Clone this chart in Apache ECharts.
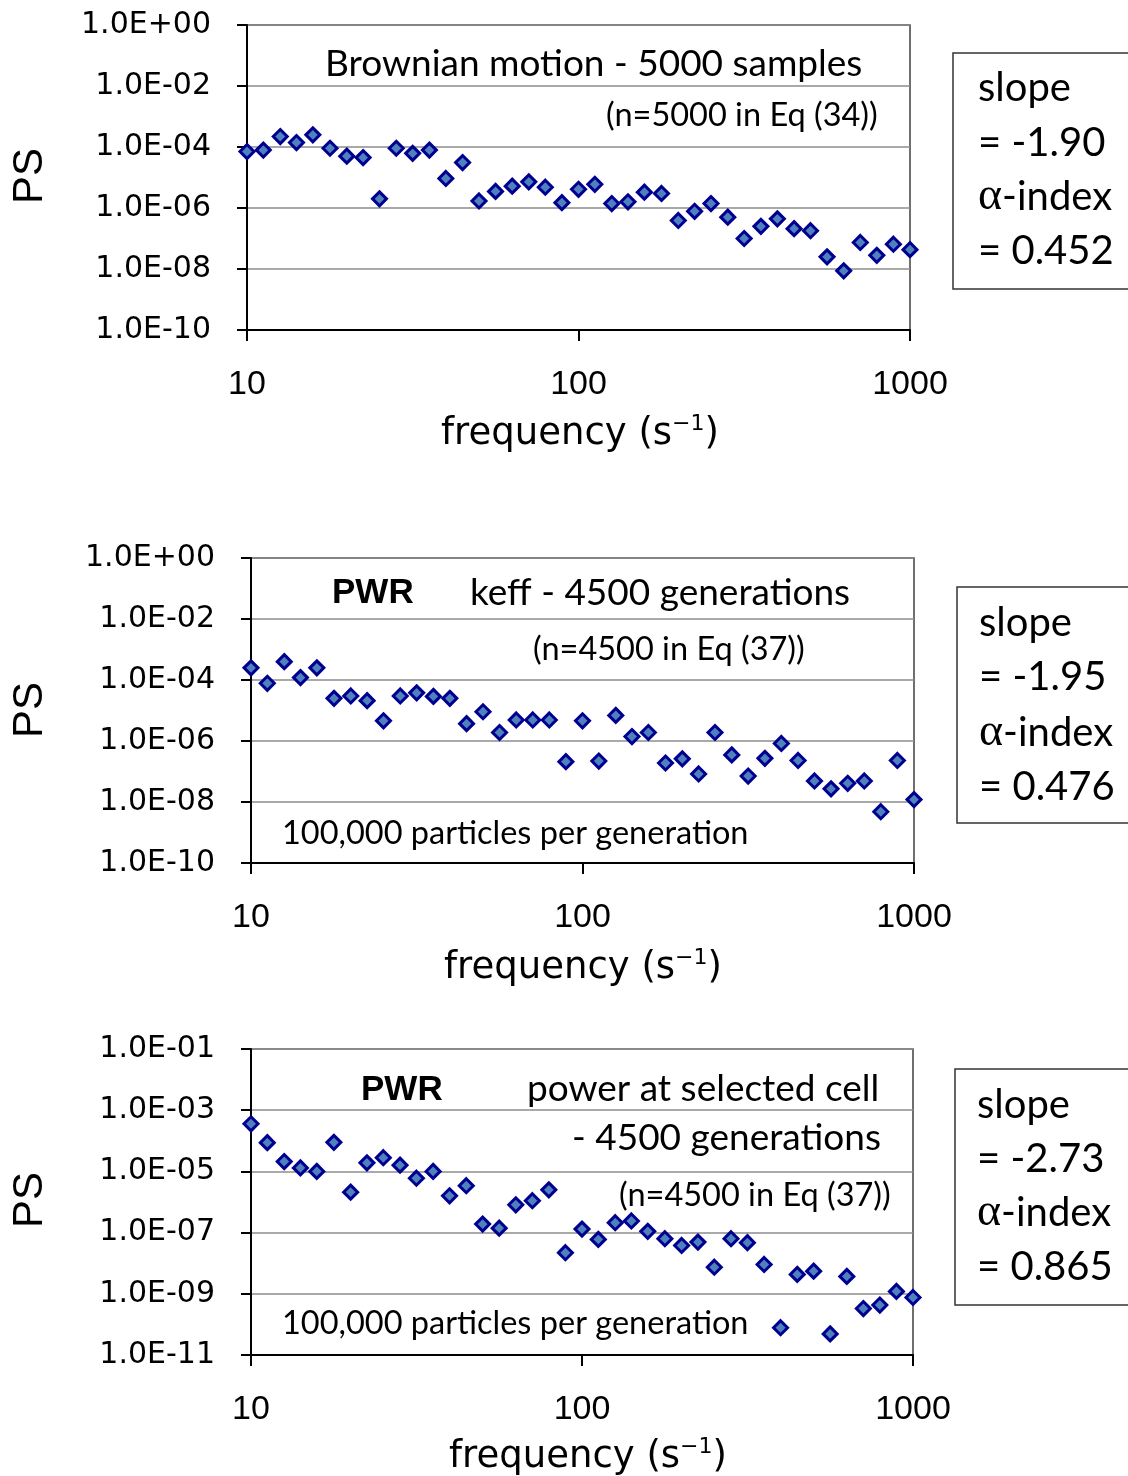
<!DOCTYPE html>
<html><head><meta charset="utf-8">
<script src="https://cdn.jsdelivr.net/npm/echarts@6/dist/echarts.min.js"></script>
<style>html,body{margin:0;padding:0;background:#fff}#c{width:1128px;height:1476px}</style>
</head><body><div id="c"></div>
<script>
// frequencies (s^-1)
const freq = [10, 11.2, 12.6, 14.1, 15.8, 17.8, 20, 22.4, 25.1, 28.2, 31.6, 35.5, 39.8, 44.7, 50.1, 56.2, 63.1, 70.8, 79.4, 89.1,
  100, 112, 126, 141, 158, 178, 200, 224, 251, 282, 316, 355, 398, 447, 501, 562, 631, 708, 794, 891, 1000];
// Panel 1: Brownian motion - 5000 samples
const psBrownian = [7.1e-5, 7.9e-5, 2.2e-4, 1.4e-4, 2.5e-4, 9.1e-5, 5.0e-5, 4.5e-5, 2.0e-6, 9.1e-5,
  6.2e-5, 7.9e-5, 9.3e-6, 3.1e-5, 1.7e-6, 3.5e-6, 5.2e-6, 7.2e-6, 4.8e-6, 1.5e-6,
  4.1e-6, 6.0e-6, 1.4e-6, 1.6e-6, 3.3e-6, 3.0e-6, 3.9e-7, 7.8e-7, 1.4e-6, 5.0e-7,
  1.0e-7, 2.5e-7, 4.4e-7, 2.1e-7, 1.8e-7, 2.5e-8, 8.7e-9, 7.4e-8, 2.8e-8, 6.5e-8, 4.3e-8];
// Panel 2: PWR keff - 4500 generations
const psKeff = [2.5e-4, 7.8e-5, 4.0e-4, 1.2e-4, 2.5e-4, 2.5e-5, 3.0e-5, 2.1e-5, 4.6e-6, 3.0e-5,
  3.8e-5, 2.9e-5, 2.5e-5, 3.7e-6, 9.1e-6, 1.9e-6, 4.9e-6, 4.9e-6, 4.9e-6, 2.1e-7,
  4.6e-6, 2.2e-7, 6.9e-6, 1.4e-6, 1.9e-6, 1.9e-7, 2.6e-7, 8.3e-8, 1.9e-6, 3.5e-7,
  7.1e-8, 2.7e-7, 8.3e-7, 2.3e-7, 4.9e-8, 2.7e-8, 4.1e-8, 4.9e-8, 4.8e-9, 2.3e-7, 1.2e-8];
// Panel 3: PWR power at selected cell - 4500 generations
const psPower = [3.6e-4, 8.7e-5, 2.1e-5, 1.3e-5, 1.0e-5, 8.9e-5, 2.1e-6, 1.9e-5, 2.8e-5, 1.6e-5,
  6.0e-6, 1.0e-5, 1.6e-6, 3.4e-6, 1.9e-7, 1.4e-7, 8.1e-7, 1.1e-6, 2.5e-6, 2.2e-8,
  1.3e-7, 6.0e-8, 2.1e-7, 2.4e-7, 1.1e-7, 6.3e-8, 3.8e-8, 4.9e-8, 7.4e-9, 6.3e-8,
  4.7e-8, 9.1e-9, 7.8e-11, 4.3e-9, 5.5e-9, 4.9e-11, 3.7e-9, 3.3e-10, 4.3e-10, 1.2e-9, 7.6e-10];

const xTickValues = [10, 100, 1000];
const xTickLabels = ['10', '100', '1000'];
const yTickValues12 = [1e-10, 1e-8, 1e-6, 1e-4, 1e-2, 1];
const yTickLabels12 = ['1.0E-10', '1.0E-08', '1.0E-06', '1.0E-04', '1.0E-02', '1.0E+00'];
const yTickValues3 = [1e-11, 1e-9, 1e-7, 1e-5, 1e-3, 1e-1];
const yTickLabels3 = ['1.0E-11', '1.0E-09', '1.0E-07', '1.0E-05', '1.0E-03', '1.0E-01'];

const slopes = ['-1.90', '-1.95', '-2.73'];
const alphas = ['0.452', '0.476', '0.865'];

function lookup(vals, labels) {
  return function (v) {
    for (let i = 0; i < vals.length; i++) {
      if (Math.abs(Math.log10(v) - Math.log10(vals[i])) < 0.01) return labels[i];
    }
    return '';
  };
}

const grids = [
  {left: 247, top: 25, width: 663, height: 305},
  {left: 251, top: 558, width: 663, height: 305},
  {left: 251, top: 1049, width: 662, height: 306}
];

const yLabelFont = 'DejaVu Sans';
const xAxes = grids.map((g, i) => ({
  type: 'log', logBase: 10, gridIndex: i, min: 10, max: 1000, interval: 1,
  axisLine: {show: true, onZero: false, lineStyle: {color: '#000', width: 2}},
  axisTick: {show: true, length: 11, lineStyle: {color: '#000', width: 2}},
  axisLabel: {show: true, margin: 38, color: '#000', fontFamily: 'Liberation Sans', fontSize: 34,
    formatter: lookup(xTickValues, xTickLabels)},
  splitLine: {show: false}, minorTick: {show: false}
}));
const yRanges = [[1e-10, 1], [1e-10, 1], [1e-11, 1e-1]];
const yAxes = grids.map((g, i) => ({
  type: 'log', logBase: 10, gridIndex: i, min: yRanges[i][0], max: yRanges[i][1], interval: 2,
  axisLine: {show: true, onZero: false, lineStyle: {color: '#000', width: 2}},
  axisTick: {show: true, length: 10, lineStyle: {color: '#000', width: 2}},
  axisLabel: {show: true, margin: 36, color: '#000', fontFamily: yLabelFont, fontSize: 30,
    formatter: i < 2 ? lookup(yTickValues12, yTickLabels12) : lookup(yTickValues3, yTickLabels3)},
  splitLine: {show: true, lineStyle: {color: '#8c8c8c', width: 1.5}}
}));

const dataSets = [psBrownian, psKeff, psPower];
const series = dataSets.map((d, i) => ({
  type: 'scatter', xAxisIndex: i, yAxisIndex: i,
  data: freq.map((f, k) => [f, d[k]]),
  symbol: 'diamond', symbolSize: 14,
  itemStyle: {color: '#4F81BD', borderColor: '#000090', borderWidth: 3, opacity: 1},
  z: 5
}));

const graphics = [];
function txt(x, y, text, font, align, extra) {
  graphics.push({
    type: 'text', x: x, y: y, z: 10,
    style: Object.assign({text: text, font: font, fill: '#000', align: align || 'left', verticalAlign: 'middle',
      textAlign: align || 'left', textVerticalAlign: 'middle'}, extra || {})
  });
}
const headFont = '37px Lato';
const subFont = '32.5px Lato';
// Panel 1
txt(325, 64, 'Brownian motion - 5000 samples', headFont);
txt(606, 116, '(n=5000 in Eq (34))', subFont);
// Panel 2
txt(332, 593, 'PWR', 'bold 35px "Liberation Sans"');
txt(470, 593, 'keff - 4500 generations', headFont);
txt(533, 650, '(n=4500 in Eq (37))', subFont);
txt(282, 834, '100,000 particles per generation', subFont);
// Panel 3
txt(361, 1090, 'PWR', 'bold 35px "Liberation Sans"');
txt(527, 1089, 'power at selected cell', headFont);
txt(572, 1138, '- 4500 generations', headFont);
txt(619, 1196, '(n=4500 in Eq (37))', subFont);
txt(282, 1324, '100,000 particles per generation', subFont);

// axis titles
const psY = [176, 710, 1200];
const freqX = [580, 583, 588];
const freqY = [434, 968, 1457];
for (let i = 0; i < 3; i++) {
  graphics.push({type: 'text', x: 30, y: psY[i], rotation: Math.PI / 2, z: 10,
    style: {text: 'PS', font: '42px "Liberation Sans"', fill: '#000', align: 'center', verticalAlign: 'middle',
      textAlign: 'center', textVerticalAlign: 'middle'}});
  graphics.push({type: 'text', x: freqX[i], y: freqY[i], z: 10,
    style: {text: 'frequency (s{sup|−1})', font: '37px "DejaVu Sans"', fill: '#000', align: 'center', verticalAlign: 'middle',
      textAlign: 'center', textVerticalAlign: 'middle',
      rich: {sup: {fontSize: 22, fontFamily: 'DejaVu Sans', verticalAlign: 'top', lineHeight: 42}}}});
}

// slope boxes
const boxes = [
  {x: 953, y: 53, h: 236, tx: 978, lines: [88, 143, 197, 251]},
  {x: 957, y: 587, h: 236, tx: 979, lines: [623, 677, 733, 787]},
  {x: 955, y: 1069, h: 236, tx: 977, lines: [1105, 1159, 1213, 1267]}
];
const boxFont = '40px Lato';
boxes.forEach((b, i) => {
  graphics.push({type: 'rect', shape: {x: b.x, y: b.y, width: 250, height: b.h}, z: 1,
    style: {fill: '#fff', stroke: '#333', lineWidth: 1.5}});
  txt(b.tx, b.lines[0], 'slope', boxFont);
  txt(b.tx, b.lines[1], '= ' + slopes[i], boxFont);
  graphics.push({type: 'text', x: b.tx, y: b.lines[2], z: 10,
    style: {text: '{a|α}-index', font: boxFont, fill: '#000', align: 'left', verticalAlign: 'middle',
      textAlign: 'left', textVerticalAlign: 'middle',
      rich: {a: {fontFamily: 'Liberation Serif', fontSize: 46}}}});
  txt(b.tx, b.lines[3], '= ' + alphas[i], boxFont);
});

const chart = echarts.init(document.getElementById('c'), null, {renderer: 'canvas'});
chart.setOption({
  animation: false,
  backgroundColor: '#fff',
  grid: grids.map(g => Object.assign({show: true, borderColor: '#404040', borderWidth: 1.5, backgroundColor: 'transparent', containLabel: false}, g)),
  xAxis: xAxes,
  yAxis: yAxes,
  series: series,
  graphic: graphics
});
</script></body></html>
